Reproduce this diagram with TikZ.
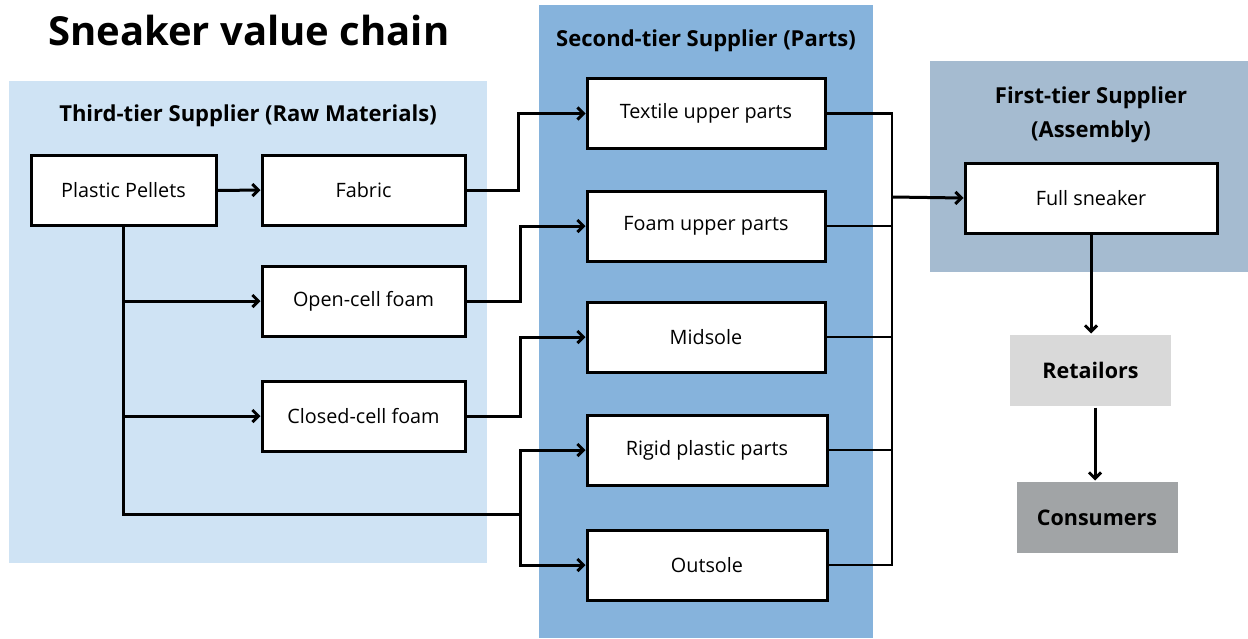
\documentclass[tikz,border=0pt]{standalone}
\usepackage{fontspec}
\setmainfont{Open Sans}
\usetikzlibrary{arrows.meta}
\definecolor{pLight}{HTML}{CFE3F4}
\definecolor{pMid}{HTML}{86B3DC}
\definecolor{pGray}{HTML}{A5BBD0}
\definecolor{rGray}{HTML}{D9D9D9}
\definecolor{cGray}{HTML}{A1A4A6}
\tikzset{
  box/.style={draw=black, line width=3pt, fill=white, inner sep=0pt,
    minimum height=70pt, font=\fontsize{19.8}{22}\selectfont},
  hdr/.style={font=\bfseries\fontsize{22}{26}\selectfont, align=center},
  tail/.style={draw=black, line width=3pt, inner sep=0pt, minimum height=71pt,
    font=\bfseries\fontsize{21.5}{24}\selectfont, minimum width=161pt},
  conn/.style={line width=3pt},
  arr/.style={line width=3pt, -{Straight Barb[length=6pt,width=12pt,line width=3pt]}},
  rbus/.style={line width=2.2pt},
}
\begin{document}
\begin{tikzpicture}[x=1pt,y=-1pt]
\useasboundingbox (0,0) rectangle (1248,638);
% panels
\fill[pLight] (9,81) rectangle (487,563);
\fill[pMid] (539,5) rectangle (873,638);
\fill[pGray] (930,61) rectangle (1248,272);
% title and headers
\node[anchor=west, font=\bfseries\fontsize{40}{44}\selectfont, inner sep=0pt] (title) at (48,30) {Sneaker value chain};
\node[hdr] (h3) at (248,116) {Third-tier Supplier (Raw Materials)};
\node[hdr] (h2) at (706,41) {Second-tier Supplier (Parts)};
\node[hdr, font=\bfseries\fontsize{22}{34}\selectfont] (h1) at (1091,115) {First-tier Supplier\\(Assembly)};
% third tier
\node[box, minimum width=185pt] (pellets) at (123.5,190.5) {Plastic Pellets};
\node[box, minimum width=203pt] (fabric) at (363.5,190) {Fabric};
\node[box, minimum width=203pt] (open) at (363.5,301) {Open-cell foam};
\node[box, minimum width=203pt] (closed) at (363.5,416) {Closed-cell foam};
% second tier
\node[box, minimum width=238pt] (textile) at (706,113.5) {Textile upper parts};
\node[box, minimum width=238pt] (foam) at (706,226) {Foam upper parts};
\node[box, minimum width=238pt] (mid) at (706,337) {Midsole};
\node[box, minimum width=240pt] (rigid) at (707,450) {Rigid plastic parts};
\node[box, minimum width=240pt] (out) at (707,565) {Outsole};
% first tier
\node[box, minimum width=252pt] (full) at (1091,198) {Full sneaker};
\node[tail, draw=none, fill=rGray] (ret) at (1090.5,370.5) {Retailors};
\node[tail, draw=none, fill=cGray] (con) at (1097,517.5) {Consumers};
% connectors third tier
\draw[arr] (pellets.east) -- (fabric.west);
\coordinate (busL) at (520,514);
\draw[conn] (pellets.south) |- (busL);
\draw[arr] (pellets.south |- open.west) -- (open.west);
\draw[arr] (pellets.south |- closed.west) -- (closed.west);
\draw[arr] (fabric.east) -- ++(52,0) |- (textile.west);
\draw[arr] (open.east) -- ++(54,0) |- (foam.west);
\draw[arr] (closed.east) -- ++(54,0) |- (mid.west);
\draw[arr] (busL) |- (rigid.west);
\draw[arr] (busL) |- (out.west);
% right bus
\coordinate (busR) at (892,197);
\draw[rbus] (textile.east) -| (busR);
\draw[rbus] (foam.east) -| (busR);
\draw[rbus] (mid.east) -| (busR);
\draw[rbus] (rigid.east) -| (busR);
\draw[rbus] (out.east) -| (busR);
\draw[arr] (busR) -- (full.west);
% downstream
\draw[arr] (full.south) -- (full.south |- ret.north);
\draw[arr] ([xshift=4.5pt]ret.south) -- ([xshift=4.5pt]ret.south |- con.north);
\end{tikzpicture}
\end{document}
